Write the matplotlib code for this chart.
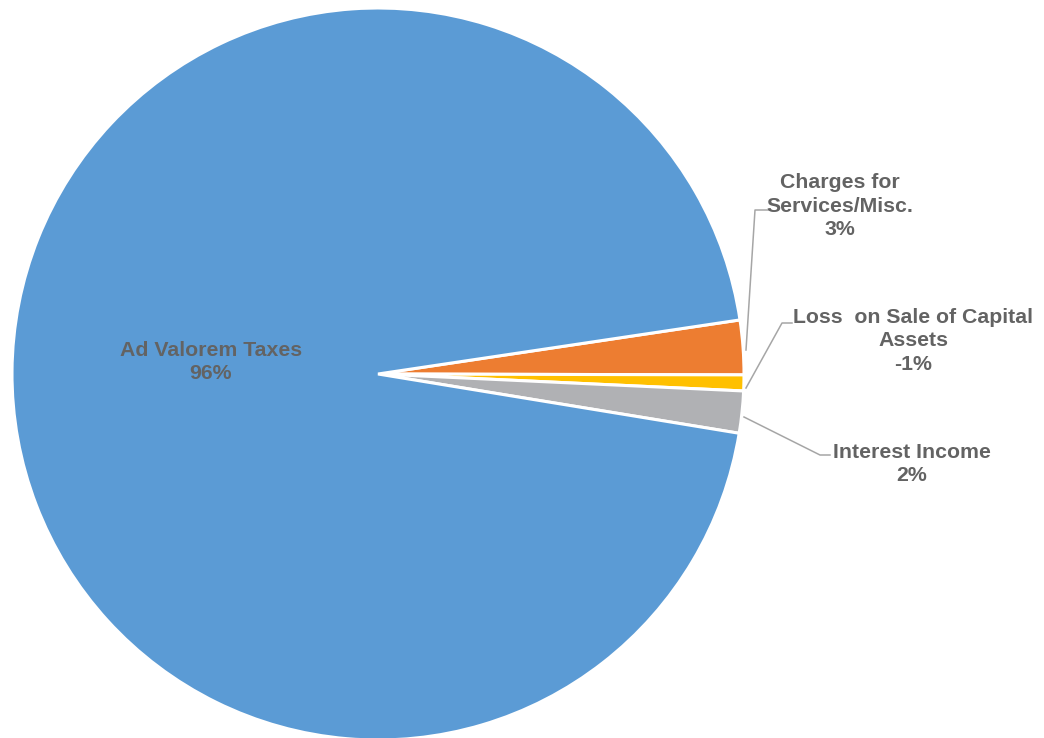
import matplotlib
matplotlib.use("Agg")
import matplotlib.pyplot as plt

categories = ["Charges for\nServices/Misc.", "Loss  on Sale of Capital\nAssets", "Interest Income", "Ad Valorem Taxes"]
values = [2.4, 0.7, 1.85, 95.05]
pct_labels = ["3%", "-1%", "2%", "96%"]
colors = ["#ED7D31", "#FFC000", "#B0B1B4", "#5B9BD5"]

W, H = 1044, 738
fig = plt.figure(figsize=(W/100, H/100), dpi=100)
ax = fig.add_axes([0, 0, 1, 1])

cx, cy, r = 378, H - 374, 366
ax.pie(values, colors=colors, startangle=8.5, counterclock=False,
       center=(cx, cy), radius=r, frame=True,
       wedgeprops=dict(edgecolor="white", linewidth=2.2))
ax.set_xlim(0, W)
ax.set_ylim(0, H)
ax.set_aspect("equal")
ax.axis("off")

tc = "#636363"
fs = 15.3
# label positions (pixel coords, y from top)
label_pos = [(840, 206), (913, 341), (912, 464), (211, 362)]
for cat, p, (x, y) in zip(categories, pct_labels, label_pos):
    ax.text(x, H - y, cat + "\n" + p, ha="center", va="center", fontsize=fs,
            fontweight="bold", color=tc, family="Liberation Sans", linespacing=1.27)

lc = "#A6A6A6"
leaders = [
    [(746, 350), (755, 210), (770, 210)],
    [(746, 388), (782, 323), (792, 323)],
    [(744, 417), (820, 455), (830, 455)],
]
for pts in leaders:
    ax.plot([p[0] for p in pts], [H - p[1] for p in pts], color=lc, lw=1.1)

fig.savefig("out.png", dpi=100, facecolor="white")
